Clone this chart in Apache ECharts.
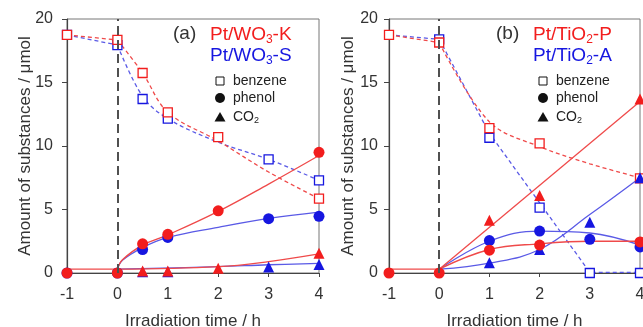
<!DOCTYPE html>
<html><head><meta charset="utf-8">
<script src="https://cdn.jsdelivr.net/npm/echarts@6/dist/echarts.min.js"></script>
<style>html,body{margin:0;padding:0;background:#fff}#c{width:643px;height:327px}</style>
</head><body><div id="c"></div>
<script>
// ---- axis ticks ----
const xTicks = [-1, 0, 1, 2, 3, 4];
const yTicks = [0, 5, 10, 15, 20];
const xName = 'Irradiation time / h';
const yName = 'Amount of substances / μmol';

// ---- panel (a): measured points ----
const aK_benzene = [[-1,18.75],[0,18.35],[0.5,15.75],[1,12.65],[2,10.7],[4,5.85]];
const aK_phenol  = [[-1,0],[0,0],[0.5,2.3],[1,3.05],[2,4.9],[4,9.5]];
const aK_co2     = [[0.5,0.15],[1,0.15],[2,0.37],[4,1.55]];
const aS_benzene = [[-1,18.75],[0,17.95],[0.5,13.7],[1,12.15],[3,8.95],[4,7.3]];
const aS_phenol  = [[-1,0],[0,0],[0.5,1.85],[1,2.8],[3,4.28],[4,4.46]];
const aS_co2     = [[0.5,0.1],[1,0.1],[3,0.47],[4,0.66]];
// ---- panel (a): guide / fit curves ----
const aK_benzenePre = [[-1,18.75],[0,18.35]];
const aS_benzenePre = [[-1,18.75],[0,17.95]];
const aK_benzeneFit = [[0,18.35],[0.5,15.75],[1,12.65],[2,10.4],[3,7.95],[4,5.85]];
const aS_benzeneFit = [[0,17.95],[0.5,13.9],[1,12.15],[2,10.3],[3,8.95],[4,7.3]];
const aK_phenolFit  = [[0,0.3],[0.1,1.05],[0.5,2.2],[1,3.0],[2,4.85],[3,7.0],[4,9.25]];
const aS_phenolFit  = [[0,0.3],[0.1,1.0],[0.5,2.0],[1,2.8],[2,3.6],[3,4.3],[4,4.8]];
const aK_co2Fit     = [[0,0.3],[2,0.5],[3,0.9],[4,1.5]];
const aS_co2Fit     = [[0,0.3],[2,0.5],[3,0.65],[4,0.75]];
const baseFit       = [[-1,0.3],[0,0.3]];

// ---- panel (b): measured points ----
const bP_benzene = [[-1,18.75],[0,18.15],[1,11.4],[2,10.2],[4,7.45]];
const bP_phenol  = [[-1,0],[0,0],[1,1.8],[2,2.2],[4,2.45]];
const bP_co2     = [[1,4.15],[2,6.1],[4,13.7]];
const bA_benzene = [[0,18.4],[1,10.65],[2,5.15],[3,0],[4,0]];
const bA_phenol  = [[1,2.55],[2,3.3],[3,2.65],[4,2.05]];
const bA_co2     = [[1,0.8],[2,1.85],[3,4.0],[4,7.5]];
// ---- panel (b): guide / fit curves ----
const bP_benzenePre = [[-1,18.75],[0,18.15]];
const bA_benzenePre = [[-1,18.75],[0,18.4]];
const bP_benzeneFit = [[0,18.15],[1,11.9],[2,9.95],[3,8.6],[4,7.5]];
const bA_benzeneFit = [[0,18.4],[1,11.0],[3,0.05],[4,0.05]];
const bP_phenolFit  = [[0,0.3],[1,1.85],[2,2.3],[3,2.5],[4,2.5]];
const bA_phenolFit  = [[0,0.3],[1,2.5],[2,3.3],[3,3.15],[4,2.2]];
const bP_co2Fit     = [[0,0.3],[4,13.5]];
const bA_co2Fit     = [[0,0.3],[1,0.78],[2,1.85],[3,4.6],[4,7.5]];

const RED = '#f21d1d', BLUE = '#1616e0';
const RED_L = '#ef4a4a', BLUE_L = '#5a5ae6';
const FONT = '"Liberation Sans", Arial, sans-serif';

function fit(data, g, color, dashed, smooth) {
  return {type:'line', xAxisIndex:g, yAxisIndex:g, data:data, showSymbol:false, silent:true,
    smooth: smooth ? smooth : false, z:2,
    lineStyle:{color:color, width:1.3, type: dashed ? [4,3] : 'solid'}};
}
function pts(data, g, color, shape) {
  const hollow = shape === 'rect';
  return {type:'scatter', xAxisIndex:g, yAxisIndex:g, data:data, symbol:shape, z:3,
    symbolSize: hollow ? 9 : 11, silent:true,
    itemStyle: hollow ? {color:'#fff', borderColor:color, borderWidth:1.3, opacity:1}
                      : {color:color, opacity:1}};
}
function base(g) {
  const s = fit(baseFit, g, RED_L, false, false);
  s.markLine = {silent:true, symbol:'none', label:{show:false}, animation:false,
    lineStyle:{color:'#505050', width:2, type:[9,5]},
    data:[{xAxis:0}]};
  return s;
}
function xAx(g) {
  return {type:'value', gridIndex:g, min:xTicks[0], max:xTicks[xTicks.length-1], interval:1,
    name:xName, nameLocation:'middle', nameGap:40, nameMoveOverlap:false,
    nameTextStyle:{fontSize:17, color:'#333', fontFamily:FONT},
    axisLine:{onZero:false, lineStyle:{color:'#444', width:1.2}},
    axisTick:{length:4, lineStyle:{color:'#444'}},
    axisLabel:{fontSize:16, color:'#333', margin:14, fontFamily:FONT},
    splitLine:{show:false}};
}
function yAx(g, gap, margin) {
  return {type:'value', gridIndex:g, min:yTicks[0], max:yTicks[yTicks.length-1], interval:5,
    name:yName, nameLocation:'middle', nameGap:gap, nameMoveOverlap:false,
    nameTextStyle:{fontSize:17, color:'#333', fontFamily:FONT},
    axisLine:{show:true, onZero:false, lineStyle:{color:'#444', width:1.2}},
    axisTick:{show:true, length:5, lineStyle:{color:'#444'}},
    axisLabel:{fontSize:16, color:'#333', margin:margin, fontFamily:FONT},
    splitLine:{show:false}};
}

function legendBlock(lx, tag, l1, l2) {
  const mk = (c) => ({
    n:{fontSize:19, fontFamily:FONT, lineHeight:22, fill:c},
    s:{fontSize:12, fontFamily:FONT, lineHeight:8, verticalAlign:'bottom', fill:c}
  });
  const out = [];
  out.push({type:'text', left:lx-37, top:24, style:{text:tag, fill:'#333', font:'19px '+FONT}});
  out.push({type:'text', left:lx, top:25, style:{text:l1, fill:RED, rich:mk(RED)}});
  out.push({type:'text', left:lx, top:46, style:{text:l2, fill:BLUE, rich:mk(BLUE)}});
  const sx = lx + 10;
  out.push({type:'rect', shape:{x:sx-4, y:77, width:8, height:8}, style:{fill:'#fff', stroke:'#111', lineWidth:1}});
  out.push({type:'circle', shape:{cx:sx, cy:98, r:5}, style:{fill:'#111'}});
  out.push({type:'polygon', shape:{points:[[sx,112],[sx+5.5,121.5],[sx-5.5,121.5]]}, style:{fill:'#111'}});
  const ts = {fill:'#222', font:'14px '+FONT, verticalAlign:'middle'};
  out.push({type:'text', x:sx+13, y:81, style:Object.assign({text:'benzene'}, ts)});
  out.push({type:'text', x:sx+13, y:98, style:Object.assign({text:'phenol'}, ts)});
  out.push({type:'text', x:sx+13, y:117, style:{text:'{a|CO}{b|2}', fill:'#222', verticalAlign:'middle',
    rich:{a:{fontSize:14, fontFamily:FONT, lineHeight:16, fill:'#222'}, b:{fontSize:9, fontFamily:FONT, lineHeight:6, verticalAlign:'bottom', fill:'#222'}}}});
  return out;
}

const series = [
  // panel a lines
  fit(aS_benzenePre, 0, BLUE_L, true, false),
  fit(aK_benzenePre, 0, RED_L, true, false),
  fit(aS_benzeneFit, 0, BLUE_L, true, 0.35),
  fit(aK_benzeneFit, 0, RED_L, true, 0.35),
  fit(aS_phenolFit, 0, BLUE_L, false, 0.4),
  fit(aS_co2Fit, 0, BLUE_L, false, 0.4),
  fit(aK_phenolFit, 0, RED_L, false, 0.4),
  fit(aK_co2Fit, 0, RED_L, false, 0.4),
  base(0),
  // panel a points
  pts(aS_benzene, 0, BLUE, 'rect'),
  pts(aK_benzene, 0, RED, 'rect'),
  pts(aS_phenol, 0, BLUE, 'circle'),
  pts(aS_co2, 0, BLUE, 'triangle'),
  pts(aK_phenol, 0, RED, 'circle'),
  pts(aK_co2, 0, RED, 'triangle'),
  // panel b lines
  fit(bA_benzenePre, 1, BLUE_L, true, false),
  fit(bP_benzenePre, 1, RED_L, true, false),
  fit(bA_benzeneFit, 1, BLUE_L, true, false),
  fit(bP_benzeneFit, 1, RED_L, true, 0.35),
  fit(bA_phenolFit, 1, BLUE_L, false, 0.4),
  fit(bA_co2Fit, 1, BLUE_L, false, 0.4),
  fit(bP_phenolFit, 1, RED_L, false, 0.4),
  fit(bP_co2Fit, 1, RED_L, false, false),
  base(1),
  // panel b points
  pts(bA_benzene, 1, BLUE, 'rect'),
  pts(bP_benzene, 1, RED, 'rect'),
  pts(bA_phenol, 1, BLUE, 'circle'),
  pts(bA_co2, 1, BLUE, 'triangle'),
  pts(bP_phenol, 1, RED, 'circle'),
  pts(bP_co2, 1, RED, 'triangle')
];

const chart = echarts.init(document.getElementById('c'), null, {renderer:'canvas'});
chart.setOption({
  animation:false,
  backgroundColor:'#fff',
  textStyle:{fontFamily:FONT},
  grid:[
    {left:67, top:19, width:252, height:254, show:true, borderColor:'#777', borderWidth:1, outerBoundsMode:'none', containLabel:false},
    {left:389, top:19, width:251, height:254, show:true, borderColor:'#777', borderWidth:1, outerBoundsMode:'none', containLabel:false}
  ],
  xAxis:[xAx(0), xAx(1)],
  yAxis:[yAx(0, 33, 14), yAx(1, 32, 11)],
  series:series,
  graphic: legendBlock(210, '(a)', '{n|Pt/WO}{s|3}{n|-K}', '{n|Pt/WO}{s|3}{n|-S}')
    .concat(legendBlock(533, '(b)', '{n|Pt/TiO}{s|2}{n|-P}', '{n|Pt/TiO}{s|2}{n|-A}'))
});
</script></body></html>
